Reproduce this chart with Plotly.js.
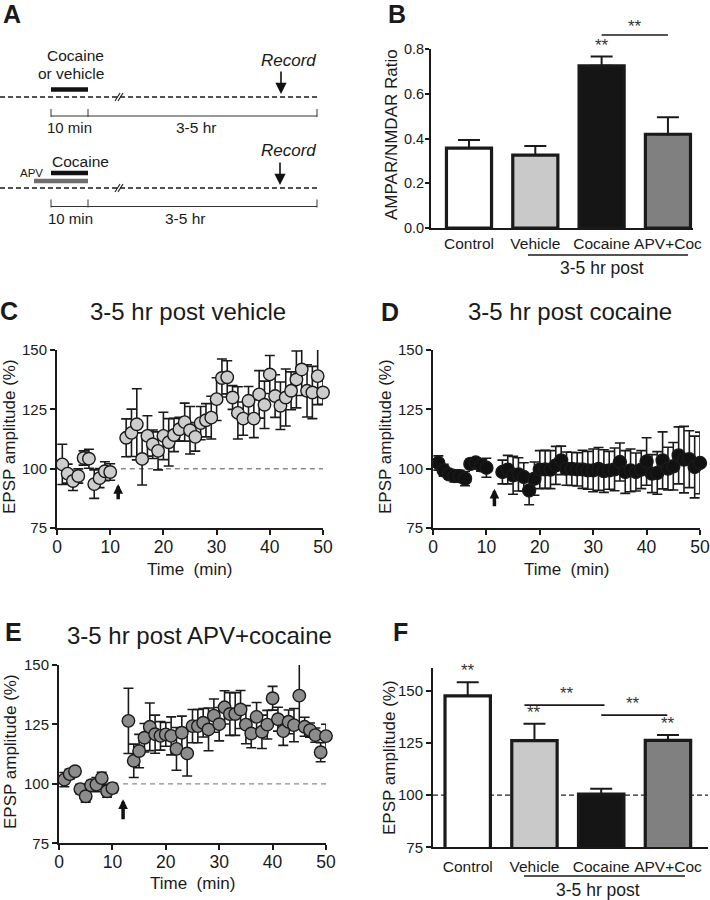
<!DOCTYPE html>
<html><head><meta charset="utf-8">
<script src="https://cdn.plot.ly/plotly-3.0.1.min.js"></script>
<style>html,body{margin:0;padding:0;background:#fff}</style>
</head><body><div id="chart" style="width:710px;height:900px"></div>
<script>
// ---------- data ----------
const minutes = [1,2,3,4,5,6,7,8,9,10,13,14,15,16,17,18,19,20,21,22,23,24,25,26,27,28,29,30,31,32,33,34,35,36,37,38,39,40,41,42,43,44,45,46,47,48,49,50];
const vehicleEPSP = [101.8,97.9,94.8,96.9,104.5,104.2,93.5,96.0,98.9,98.6,113.0,115.1,118.7,104.1,113.8,110.3,107.5,113.8,111.1,114.2,116.6,119.6,116.2,113.4,119.2,120.4,121.5,129.3,138.2,138.5,130.0,123.5,121.1,128.6,121.1,131.3,126.9,139.7,130.6,126.5,130.0,132.8,137.6,141.8,132.8,132.1,139.0,132.1];
const vehicleSEM = [8.5,4,4,3,3,4,6,4,4,3.5,8,10,15,11,8.5,6,8,10,10,7,5,8,10,6,7,7,9,9,8,7,5,11,7,6,8,10,10,8,9,10,12,8,12,11,11,11,12,5];
const cocaineEPSP = [102.4,99.3,97.6,96.9,96.8,95.8,102.0,102.6,101.4,100.4,98.6,99.6,97.2,97.6,96.5,90.8,95.8,99.6,99.7,99.6,101.4,103.5,100.0,99.9,99.7,99.7,99.3,99.3,99.9,99.0,99.3,99.7,102.8,98.6,99.3,98.6,99.6,103.0,97.9,98.2,103.5,100.0,101.0,105.6,103.8,104.0,100.7,102.4];
const cocaineSEM = [3,2.5,2,2.5,2.5,3,2,2,2.5,4,5,6,8,7,6,6,7,8,8,8,8,6,7,7,7,8,8,9,9,9,8,9,8,9,9,8,8,10,8,9,12,9,10,12,14,12,13,13];
const apvEPSP = [101.8,104.1,105.3,97.8,94.8,99.4,99.7,102.4,96.9,98.2,126.5,109.7,113.8,119.4,124.0,120.9,120.2,120.8,120.2,114.7,121.5,112.8,124.3,124.3,125.7,122.9,128.7,125.1,132.2,129.4,129.4,131.3,124.9,121.2,128.2,121.9,124.9,136.0,127.2,122.2,126.1,124.7,137.1,124.0,122.6,120.5,113.3,120.1];
const apvSEM = [3,2,1.5,2,2.5,2,3,2.5,2.5,2,13.7,7,7,6,10,8,6,5,8,9,7,9.5,7,7,6,9,7,7,7,9,9,8,8,6,6,7,6,5,5,6,5,7,13.6,4,3,3,4,5];

const groups = ['Control','Vehicle','Cocaine','APV+Coc'];
const ratioMean = [0.357,0.326,0.725,0.419];
const ratioSEM = [0.036,0.040,0.041,0.076];
const ampMean = [147.6,126.2,100.5,126.3];
const ampSEM = [6.6,8.0,2.6,2.6];

const epspTicks = [75,100,125,150];
const timeTicks = [0,10,20,30,40,50];
const ratioTicks = [0,0.2,0.4,0.6,0.8];
const injectionMin = 11.5;

// ---------- helpers ----------
const W = 710, H = 900;
const FONT = 'Liberation Sans, Arial, Helvetica, sans-serif';
const INK = '#1a1a1a';
const fx = p => p / W;
const fy = p => 1 - p / H;
const barColors = ['#ffffff','#c9c9c9','#151515','#808080'];

function scatterTrace(y, err, ax, fill, size) {
  return {
    type: 'scatter', mode: 'markers', x: minutes, y: y,
    xaxis: 'x' + ax, yaxis: 'y' + ax, cliponaxis: false,
    marker: {size: size, color: fill, line: {color: INK, width: 1.4}},
    error_y: {type: 'data', array: err, visible: true, color: INK, thickness: 1.6, width: 5}
  };
}
function barTrace(vals, err, ax) {
  return {
    type: 'bar', x: groups, y: vals, xaxis: 'x' + ax, yaxis: 'y' + ax, width: 0.68,
    marker: {color: barColors, line: {color: INK, width: 3.2}},
    error_y: {type: 'data', symmetric: false, array: err, arrayminus: err.map(() => 0),
              visible: true, color: INK, thickness: 2, width: 11}
  };
}

const traces = [
  barTrace(ratioMean, ratioSEM, 2),
  scatterTrace(vehicleEPSP, vehicleSEM, 3, '#cdcdcd', 12.5),
  scatterTrace(cocaineEPSP, cocaineSEM, 4, '#111111', 13),
  scatterTrace(apvEPSP, apvSEM, 5, '#8c8c8c', 12.5),
  barTrace(ampMean, ampSEM, 6)
];

const axLine = {showline: true, linecolor: INK, linewidth: 2, showgrid: false, zeroline: false,
                ticks: 'outside', ticklen: 5, tickwidth: 2, tickcolor: INK, fixedrange: true};

function timeAxis(d0, d1, anchor) {
  return Object.assign({}, axLine, {domain: [fx(d0), fx(d1)], anchor: anchor, range: [0, 50],
    tickvals: timeTicks, ticklabelstandoff: -3, tickfont: {size: 17.5, family: FONT, color: INK}});
}
function epspAxis(top, bottom, anchor, rng) {
  return Object.assign({}, axLine, {domain: [fy(bottom), fy(top)], anchor: anchor, range: rng,
    tickvals: epspTicks, tickfont: {size: 15, family: FONT, color: INK}});
}

const layout = {
  width: W, height: H, margin: {l: 0, r: 0, t: 0, b: 0},
  paper_bgcolor: '#fff', plot_bgcolor: 'rgba(0,0,0,0)', showlegend: false,
  font: {family: FONT, color: INK},
  // panel A schematic axes (pixel-like coordinates, hidden)
  xaxis: {domain: [0, fx(340)], range: [0, 340], visible: false, fixedrange: true},
  yaxis: {domain: [fy(240), 1], range: [240, 0], visible: false, fixedrange: true},
  // B
  xaxis2: Object.assign({}, axLine, {domain: [fx(431), fx(693)], anchor: 'y2', type: 'category',
    range: [-0.573, 3.378], ticks: '', tickfont: {size: 15.5, family: FONT, color: INK}}),
  yaxis2: Object.assign({}, axLine, {domain: [fy(228), fy(49)], anchor: 'x2', range: [0, 0.8],
    ticklen: 4, ticklabelstandoff: -2,
    tickvals: ratioTicks, tickformat: '.1f', tickfont: {size: 14.5, family: FONT, color: INK}}),
  // C
  xaxis3: timeAxis(57, 323, 'y3'),
  yaxis3: epspAxis(350, 528, 'x3', [75, 150]),
  // D
  xaxis4: timeAxis(433, 700, 'y4'),
  yaxis4: epspAxis(350, 528, 'x4', [75, 150]),
  // E
  xaxis5: timeAxis(59, 326, 'y5'),
  yaxis5: epspAxis(665, 843.3, 'x5', [75, 150]),
  // F
  xaxis6: Object.assign({}, axLine, {domain: [fx(433), fx(708)], anchor: 'y6', type: 'category',
    range: [-0.52, 3.6], ticks: 'outside', tickcolor: 'rgba(0,0,0,0)', ticklen: 4,
    tickfont: {size: 15.5, family: FONT, color: INK}}),
  yaxis6: epspAxis(668, 847.3, 'x6', [75, 161]),
  shapes: [],
  annotations: []
};

const S = layout.shapes, A = layout.annotations;
function line(x0, y0, x1, y1, w, color, dash, xref, yref, layer) {
  S.push({type: 'line', x0, y0, x1, y1, xref: xref || 'x', yref: yref || 'y',
          line: {color: color || INK, width: w, dash: dash || 'solid'}, layer: layer || 'above'});
}
function text(t, x, y, size, opts) {
  A.push(Object.assign({text: t, x, y, xref: 'paper', yref: 'paper', showarrow: false,
    xanchor: 'center', yanchor: 'middle', font: {size, family: FONT, color: INK}}, opts || {}));
}

// ---------- Panel A schematic ----------
function timeline(yBar, yDash, yBr, record, recY, withAPV) {
  line(51, yBar, 88, yBar, 4.5, '#111');
  if (withAPV) line(34, yBar + 8, 88, yBar + 8, 4.5, '#6e6e6e');
  line(0, yDash, 317, yDash, 1.5, INK, '5px,3px');
  line(115, yDash + 4, 120, yDash - 4, 1.1, INK);
  line(118, yDash + 4, 123, yDash - 4, 1.1, INK);
  line(51, yBr, 317, yBr, 1, '#333');
  [51, 88, 317].forEach(xx => line(xx, yBr - 7, xx, yBr + 1, 1, '#333'));
  A.push({text: '', x: record, y: yDash - 3, ax: record, ay: yDash - 27, xref: 'x', yref: 'y',
          axref: 'x', ayref: 'y', showarrow: true, arrowhead: 2, arrowwidth: 1.6, arrowsize: 1.4,
          arrowcolor: '#111'});
  A.push({text: '<i>Record</i>', x: 288, y: recY, xref: 'x', yref: 'y', showarrow: false,
          font: {size: 17, family: FONT, color: INK}});
}
timeline(89.5, 97, 116, 281, 60, false);
timeline(173, 188, 206.5, 280, 150, true);
[['Cocaine', 75, 55, 15.5], ['or vehicle', 71, 73, 15.5], ['10 min', 69, 127, 15], ['3-5 hr', 196, 127, 15.5],
 ['Cocaine', 80, 161, 15.5], ['APV', 31, 172.5, 11.5], ['10 min', 70, 218, 15], ['3-5 hr', 185, 218, 15.5]]
 .forEach(t => A.push({text: t[0], x: t[1], y: t[2], xref: 'x', yref: 'y', showarrow: false,
   font: {size: t[3], family: FONT, color: INK}}));

// ---------- panel letters, titles, axis titles ----------
[['A', 12, 14], ['B', 397, 14], ['C', 9, 311], ['D', 390, 312], ['E', 13, 632], ['F', 400, 632]]
  .forEach(p => text('<b>' + p[0] + '</b>', fx(p[1]), fy(p[2]), 25));
text('3-5 hr post vehicle', fx(187.5), fy(311), 24);
text('3-5 hr post cocaine', fx(570), fy(311), 24);
text('3-5 hr post APV+cocaine', fx(199), fy(635), 24);

text('AMPAR/NMDAR Ratio', fx(391), fy(135), 17, {textangle: -90});
text('EPSP amplitude (%)', fx(10), fy(437), 17, {textangle: -90});
text('EPSP amplitude (%)', fx(386), fy(437), 17, {textangle: -90});
text('EPSP amplitude (%)', fx(10), fy(752), 17, {textangle: -90});
text('EPSP amplitude (%)', fx(389), fy(758), 17, {textangle: -90});
text('Time\u00a0 (min)', fx(190), fy(569), 17);
text('Time\u00a0 (min)', fx(566), fy(569), 17);
text('Time\u00a0 (min)', fx(192.5), fy(883), 17);

// "3-5 hr post" group labels
line(fx(528), fy(255), fx(688), fy(255), 1.5, INK, 'solid', 'paper', 'paper');
text('3-5 hr post', fx(602), fy(268), 17.5);
line(fx(524), fy(876), fx(685), fy(876), 1.5, INK, 'solid', 'paper', 'paper');
text('3-5 hr post', fx(598), fy(890), 17.5);

// ---------- reference lines & arrows ----------
line(12, 100, 50.3, 100, 1.5, '#8a8a8a', '5px,4px', 'x3', 'y3', 'below');
line(12, 100, 50.3, 100, 1.3, '#8a8a8a', '5px,4px', 'x5', 'y5', 'below');
line(-0.52, 100, 3.6, 100, 1.2, '#222', '5px,3px', 'x6', 'y6', 'below');

[['3', 93.5, 86.5, 0], ['4', 91.5, 83.5, 0], ['5', 93.5, 84.5, 0.5]].forEach(a => {
  A.push({text: '', x: injectionMin + a[3], y: a[1], ax: injectionMin + a[3], ay: a[2],
          xref: 'x' + a[0], yref: 'y' + a[0], axref: 'x' + a[0], ayref: 'y' + a[0],
          showarrow: true, arrowhead: 2, arrowwidth: 3.5, arrowsize: 0.55, arrowcolor: '#111'});
});

// ---------- significance ----------
function stars(xref, x, yref, y, shift) {
  A.push({text: '**', x, y, xref, yref, showarrow: false, yanchor: 'bottom',
          yshift: shift || 0, font: {size: 17, family: FONT, color: '#333'}});
}
stars('x2', 2, 'y2', ratioMean[2] + ratioSEM[2], 0);
line(2, fy(35), 3, fy(35), 1.6, INK, 'solid', 'x2', 'paper');
stars('x2', 2.5, 'paper', fy(35), -3);

stars('x6', 0, 'y6', ampMean[0] + ampSEM[0], 0);
stars('x6', 1, 'y6', ampMean[1] + ampSEM[1], 0);
stars('x6', 3, 'y6', ampMean[3] + ampSEM[3], 0);
line(0.85, 143.2, 2.05, 143.2, 1.6, INK, 'solid', 'x6', 'y6');
stars('x6', 1.49, 'y6', 143.2, 0);
line(2.0, 138.4, 2.99, 138.4, 1.6, INK, 'solid', 'x6', 'y6');
stars('x6', 2.48, 'y6', 138.4, 0);

Plotly.newPlot('chart', traces, layout, {displayModeBar: false, staticPlot: true});
</script>
</body></html>
